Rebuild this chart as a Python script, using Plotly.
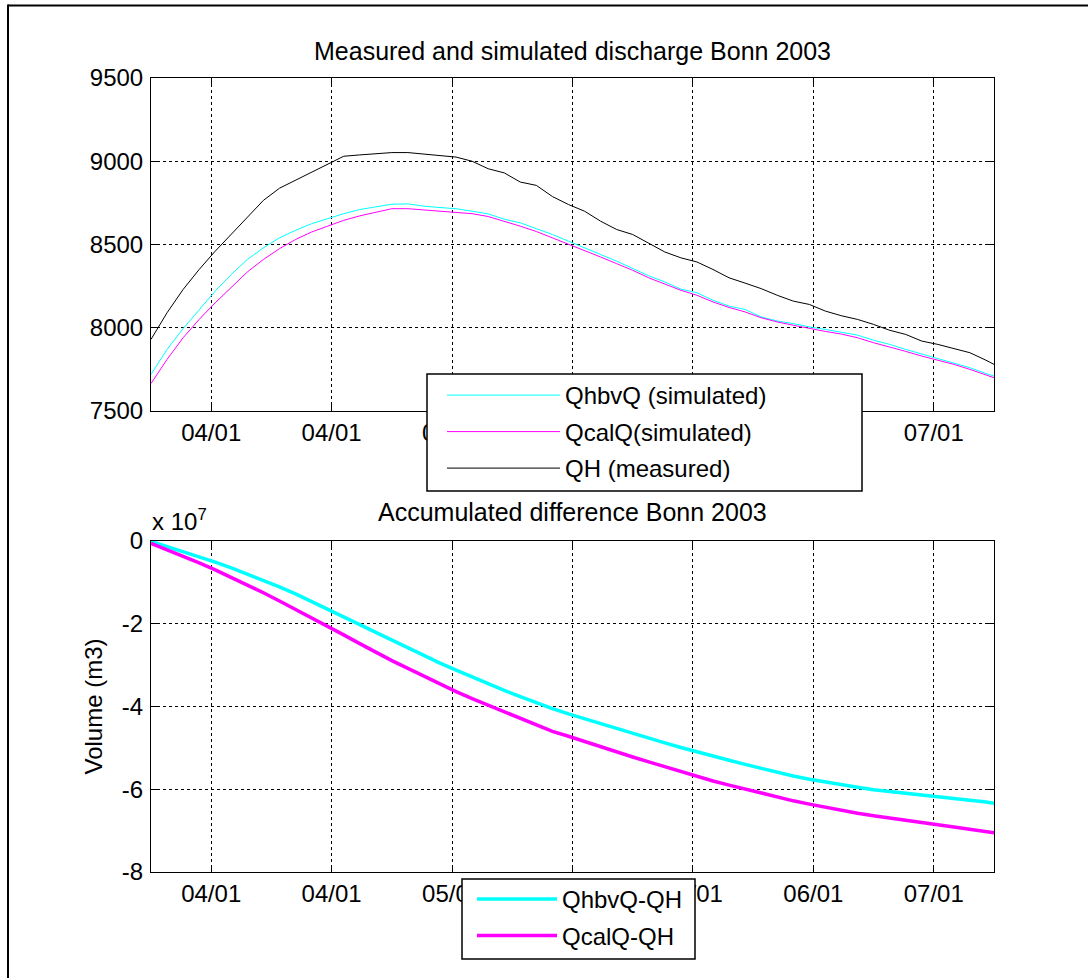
import plotly.graph_objects as go

# ---------------- data ----------------
days = [0, 2, 4, 6, 8, 10, 12, 14, 16, 18, 20, 22, 24, 26, 28, 30, 32, 34, 36, 38,
        40, 42, 44, 46, 48, 50, 52, 54, 56, 58, 60, 62, 64, 66, 68, 70, 72, 74, 76, 78,
        80, 82, 84, 86, 88, 90, 92, 94, 96, 98, 100, 102, 104, 105]

qh_measured = [7930, 8090, 8230, 8350, 8460, 8560, 8660, 8765, 8838, 8885,
               8935, 8980, 9030, 9038, 9045, 9052, 9052, 9042, 9032, 9025,
               9000, 8955, 8930, 8875, 8855, 8788, 8740, 8700, 8640, 8590,
               8560, 8510, 8455, 8420, 8395, 8350, 8300, 8268, 8235, 8195,
               8160, 8140, 8100, 8072, 8050, 8020, 7985, 7960, 7920, 7900,
               7875, 7850, 7805, 7780]

qhbv_sim = [7720, 7870, 7995, 8110, 8220, 8320, 8410, 8480, 8540, 8585,
            8625, 8655, 8685, 8710, 8728, 8742, 8744, 8730, 8722, 8715,
            8700, 8684, 8652, 8630, 8595, 8560, 8520, 8482, 8440, 8400,
            8355, 8312, 8275, 8232, 8210, 8165, 8130, 8110, 8065, 8040,
            8025, 8005, 7990, 7975, 7956, 7925, 7900, 7870, 7843, 7815,
            7790, 7760, 7725, 7710]

qcal_sim = [7665, 7810, 7940, 8050, 8150, 8245, 8335, 8410, 8475, 8530,
            8575, 8610, 8645, 8672, 8695, 8715, 8715, 8708, 8700, 8695,
            8685, 8668, 8640, 8610, 8578, 8540, 8505, 8465, 8425, 8385,
            8345, 8300, 8262, 8225, 8195, 8155, 8122, 8095, 8060, 8035,
            8015, 7995, 7978, 7962, 7940, 7910, 7885, 7858, 7830, 7805,
            7780, 7750, 7715, 7700]

# accumulated difference, in units of 1e7 m3
acc_hbv = [-0.01, -0.13, -0.26, -0.38, -0.51, -0.65, -0.80, -0.94, -1.11, -1.28,
           -1.46, -1.64, -1.83, -2.02, -2.21, -2.40, -2.58, -2.77, -2.95, -3.12,
           -3.29, -3.46, -3.61, -3.76, -3.91, -4.05, -4.18, -4.30, -4.42, -4.54,
           -4.66, -4.77, -4.88, -4.99, -5.10, -5.20, -5.30, -5.40, -5.50, -5.59,
           -5.68, -5.76, -5.83, -5.89, -5.95, -6.01, -6.05, -6.09, -6.13, -6.17,
           -6.21, -6.26, -6.31, -6.34]

acc_cal = [-0.06, -0.21, -0.37, -0.53, -0.70, -0.88, -1.06, -1.25, -1.45, -1.65,
           -1.85, -2.06, -2.27, -2.48, -2.69, -2.89, -3.08, -3.27, -3.46, -3.64,
           -3.81, -3.97, -4.13, -4.29, -4.44, -4.60, -4.72, -4.85, -4.98, -5.10,
           -5.22, -5.34, -5.46, -5.57, -5.69, -5.80, -5.90, -6.00, -6.10, -6.19,
           -6.28, -6.36, -6.44, -6.51, -6.58, -6.64, -6.70, -6.75, -6.80, -6.86,
           -6.91, -6.96, -7.02, -7.05]

tick_days = [7.5, 22.5, 37.5, 52.5, 67.5, 82.5, 97.5]
tick_labels = ["04/01", "04/01", "05/01", "05/01", "06/01", "06/01", "07/01"]
upper_ticks = [7500, 8000, 8500, 9000, 9500]
lower_ticks = [-8, -6, -4, -2, 0]
lower_tick_labels = ["-8", "-6", "-4", "-2", "0"]

# ---------------- figure ----------------
FONT = "Liberation Sans, Arial, Helvetica, sans-serif"
W, H = 1088, 978
ML, MR, MT, MB = 151, 94, 78, 106
PW, PH = W - ML - MR, H - MT - MB


def py(pix):
    return 1 - (pix - MT) / PH


def px(pix):
    return (pix - ML) / PW


fig = go.Figure()
fig.add_trace(go.Scatter(x=days, y=qhbv_sim, mode="lines", name="QhbvQ (simulated)",
                         line=dict(color="#00FFFF", width=1), legend="legend",
                         legendgroup="a"))
fig.add_trace(go.Scatter(x=days, y=qcal_sim, mode="lines", name="QcalQ(simulated)",
                         line=dict(color="#FF00FF", width=1), legend="legend",
                         legendgroup="b"))
fig.add_trace(go.Scatter(x=days, y=qh_measured, mode="lines", name="QH (measured)",
                         line=dict(color="black", width=1), legend="legend",
                         legendgroup="c"))
fig.add_trace(go.Scatter(x=days, y=acc_hbv, mode="lines", name="QhbvQ-QH",
                         line=dict(color="#00FFFF", width=3.5), xaxis="x2", yaxis="y2",
                         legend="legend2", legendgroup="d"))
fig.add_trace(go.Scatter(x=days, y=acc_cal, mode="lines", name="QcalQ-QH",
                         line=dict(color="#FF00FF", width=3.5), xaxis="x2", yaxis="y2",
                         legend="legend2", legendgroup="e"))

axis_common = dict(showline=True, linecolor="black", linewidth=1, mirror="ticks",
                   ticks="inside", ticklen=6, tickcolor="black", tickwidth=1,
                   showgrid=True, gridcolor="black", griddash="dot", gridwidth=1,
                   zeroline=False, tickfont=dict(size=24, color="black", family=FONT))

up_bottom = py(411)
lo_top = py(541)

fig.update_layout(
    width=W, height=H,
    margin=dict(l=ML, r=MR, t=MT, b=MB, autoexpand=False),
    paper_bgcolor="white", plot_bgcolor="white",
    font=dict(family=FONT, size=24, color="black"),
    xaxis=dict(axis_common, domain=[0, 1], anchor="y", range=[0, 105],
               tickvals=tick_days, ticktext=tick_labels),
    yaxis=dict(axis_common, domain=[up_bottom, 1], anchor="x", range=[7500, 9500],
               tickvals=upper_ticks, ticklabelstandoff=2),
    xaxis2=dict(axis_common, domain=[0, 1], anchor="y2", range=[0, 105],
                tickvals=tick_days, ticktext=tick_labels),
    yaxis2=dict(axis_common, domain=[0, lo_top], anchor="x2", range=[-8, 0],
                tickvals=lower_ticks, ticktext=lower_tick_labels, ticklabelstandoff=2,
                title=dict(text="Volume (m3)", font=dict(size=24, family=FONT),
                           standoff=12)),
    legend=dict(x=px(442), y=py(373), xanchor="left", yanchor="top",
                bgcolor="rgba(0,0,0,0)", borderwidth=0,
                font=dict(size=24, family=FONT, color="black"),
                itemwidth=113, tracegroupgap=2.3),
    legend2=dict(x=px(472), y=py(877), xanchor="left", yanchor="top",
                 bgcolor="rgba(0,0,0,0)", borderwidth=0,
                 font=dict(size=24, family=FONT, color="black"),
                 itemwidth=80, tracegroupgap=2.3),
    showlegend=True,
)

fig.add_annotation(text="Measured and simulated discharge Bonn 2003", xref="paper",
                   yref="paper", x=0.5, y=py(51), xanchor="center", yanchor="middle",
                   showarrow=False, font=dict(size=25, family=FONT))
fig.add_annotation(text="Accumulated difference Bonn 2003", xref="paper",
                   yref="paper", x=0.5, y=py(512), xanchor="center", yanchor="middle",
                   showarrow=False, font=dict(size=25, family=FONT))
fig.add_annotation(text="x 10<sup>7</sup>", xref="paper", yref="paper",
                   x=px(150), y=py(520), xanchor="left", yanchor="middle",
                   showarrow=False, font=dict(size=24, family=FONT))

# legend boxes (white, framed, drawn over the plot like the reference)
fig.add_shape(type="rect", xref="paper", yref="paper", layer="above",
              x0=px(427), x1=px(862), y0=py(491), y1=py(374),
              fillcolor="white", line=dict(color="black", width=1.5))
fig.add_shape(type="rect", xref="paper", yref="paper", layer="above",
              x0=px(462), x1=px(695), y0=py(959), y1=py(879),
              fillcolor="white", line=dict(color="black", width=1.5))

# outer figure frame (top and left edges visible in the reference)
fig.add_shape(type="line", xref="paper", yref="paper",
              x0=px(8), x1=px(1095), y0=py(5.5), y1=py(5.5),
              line=dict(color="black", width=2))
fig.add_shape(type="line", xref="paper", yref="paper",
              x0=px(8), x1=px(8), y0=py(4.5), y1=py(990),
              line=dict(color="black", width=2))

fig.write_html("out.html", config={"displayModeBar": False},
               post_script="document.body.style.margin='0';document.body.style.overflow='hidden';")
